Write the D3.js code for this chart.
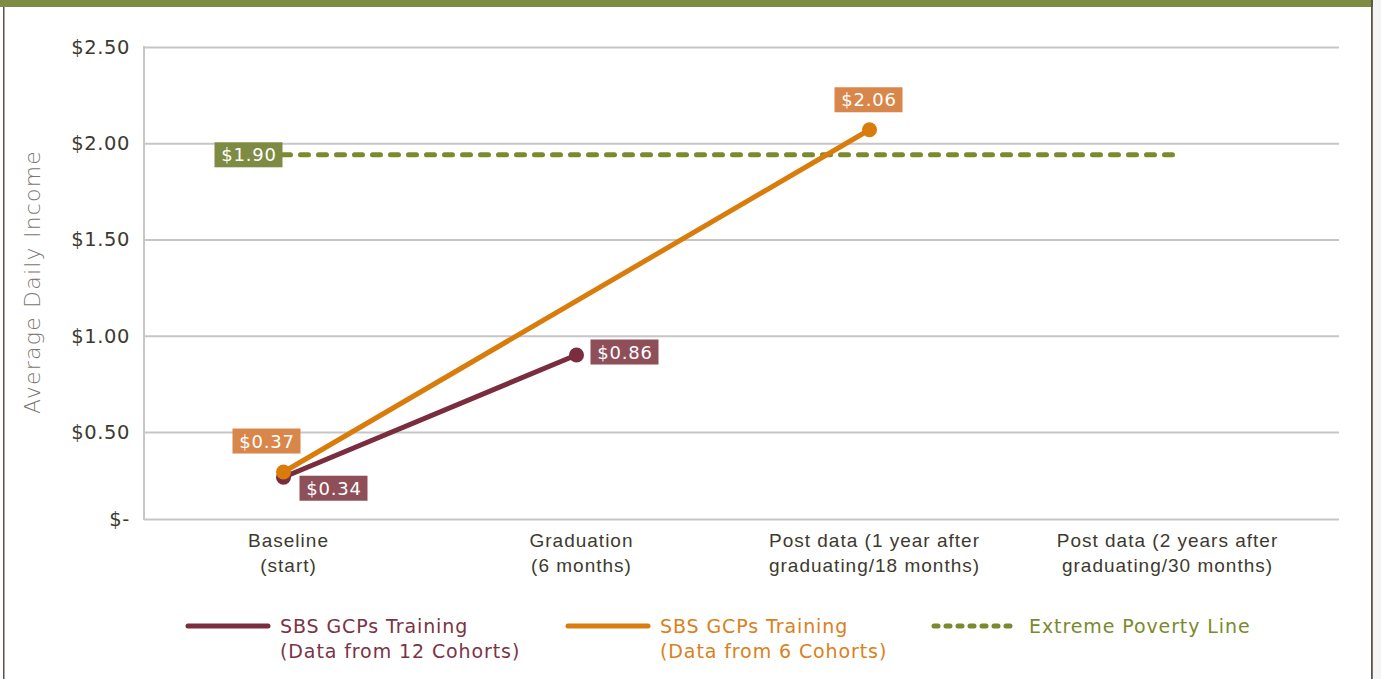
<!DOCTYPE html>
<html>
<head>
    <meta charset="utf-8">
    <title>Average Daily Income</title>
    <script src="https://cdn.jsdelivr.net/npm/d3@7/dist/d3.min.js"></script>
    <style>
        html, body { margin: 0; padding: 0; background: #f4f4f4; }
        svg { display: block; font-family: "DejaVu Sans", sans-serif; }
    </style>
</head>
<body>
<svg id="mainsvg" width="1381" height="679"></svg>
<script>
    // data
    const categories = ['Baseline|(start)', 'Graduation|(6 months)',
        'Post data (1 year after|graduating/18 months)', 'Post data (2 years after|graduating/30 months)'];
    const yTicks = [0, 0.5, 1.0, 1.5, 2.0, 2.5];
    const yTickLabels = ['$-', '$0.50', '$1.00', '$1.50', '$2.00', '$2.50'];

    // null = no measurement for that period
    const cohorts12Values = [0.24, 0.90, null, null];
    const cohorts12Labels = ['$0.34', '$0.86', null, null];
    const cohorts6Values = [0.27, null, 2.07, null];
    const cohorts6Labels = ['$0.37', null, '$2.06', null];
    const povertyValue = 1.94;
    const povertyLabel = '$1.90';

    const seriesNames = ['SBS GCPs Training|(Data from 12 Cohorts)', 'SBS GCPs Training|(Data from 6 Cohorts)', 'Extreme Poverty Line'];

    const purple = '#7b2d40', purpleBox = '#8e4f58';
    const orange = '#d97c0c', orangeBox = '#d9864b';
    const green = '#7a8a2c', greenBox = '#7e8c43';

    const svg = d3.select('#mainsvg');
    const width = +svg.attr('width');
    const height = +svg.attr('height');

    // frame
    svg.append('rect').attr('x', 0).attr('y', 0).attr('width', 1373).attr('height', height).attr('fill', '#ffffff');
    svg.append('rect').attr('x', 0).attr('y', 0).attr('width', 1373).attr('height', 7).attr('fill', '#7e8c43');
    svg.append('rect').attr('x', 3).attr('y', 7).attr('width', 1.5).attr('height', height).attr('fill', '#5a5448');
    svg.append('rect').attr('x', 1371).attr('y', 0).attr('width', 1.8).attr('height', height).attr('fill', '#5a5448');

    const plotLeft = 144, plotRight = 1339;

    const xScale = d3.scaleBand().domain(categories).range([137, 1309]);
    const xc = d => xScale(d) + xScale.bandwidth() / 2;

    // the zero line sits a bit closer than the other gridlines in the original
    const yScale = d3.scaleLinear().domain([0, 0.5, 2.5]).range([519, 432, 47]);

    // gridlines via axis
    const grid = svg.append('g')
        .attr('transform', `translate(${plotLeft},0)`)
        .call(d3.axisLeft(yScale).tickValues(yTicks).tickSize(-(plotRight - plotLeft)).tickFormat(''));
    grid.select('.domain').remove();
    grid.selectAll('.tick line').attr('stroke', '#c6c6c6').attr('stroke-width', 2);

    svg.append('line')
        .attr('x1', plotLeft).attr('x2', plotLeft)
        .attr('y1', yScale(2.5) - 1).attr('y2', yScale(0) + 1)
        .attr('stroke', '#c6c6c6').attr('stroke-width', 2);

    // y tick labels
    const yAxis = svg.append('g')
        .attr('transform', `translate(${plotLeft},0)`)
        .call(d3.axisLeft(yScale).tickValues(yTicks).tickSize(0).tickPadding(14)
            .tickFormat((d, i) => yTickLabels[i]));
    yAxis.select('.domain').remove();
    yAxis.selectAll('text')
        .attr('font-family', '"DejaVu Sans", sans-serif')
        .attr('font-size', '19.5px').attr('letter-spacing', '0.6px')
        .attr('fill', '#3d3a2f');

    // y axis title
    svg.append('text')
        .attr('transform', `translate(40,${282}) rotate(-90)`)
        .attr('text-anchor', 'middle')
        .attr('font-family', '"DejaVu Sans ExtraLight", "DejaVu Sans", sans-serif')
        .attr('font-size', '22px').attr('font-weight', 200).attr('letter-spacing', '1.2px')
        .attr('fill', '#7a7670')
        .text('Average Daily Income');

    // x category labels
    const xAxis = svg.append('g')
        .attr('transform', `translate(0,${yScale(0)})`)
        .call(d3.axisBottom(xScale).tickSize(0).tickFormat(''));
    xAxis.select('.domain').remove();
    xAxis.selectAll('.tick').each(function (d) {
        const t = d3.select(this).append('text')
            .attr('text-anchor', 'middle')
            .attr('font-size', '19px').attr('letter-spacing', '1px')
            .attr('fill', '#3d3a2f');
        d.split('|').forEach((line, i) => {
            t.append('tspan').attr('x', 5).attr('y', 28 + i * 25).text(line);
        });
    });

    // poverty line
    svg.append('line')
        .attr('x1', xc(categories[0]) - 1).attr('x2', xc(categories[3]) + 20)
        .attr('y1', yScale(povertyValue)).attr('y2', yScale(povertyValue))
        .attr('stroke', green).attr('stroke-width', 5)
        .attr('stroke-linecap', 'round').attr('stroke-dasharray', '8,10');

    const line = d3.line().x(d => d.x).y(d => yScale(d.v));

    function drawSeries(values, color) {
        const pts = values.map((v, i) => ({ x: xc(categories[i]), v: v, i: i }))
            .filter(d => d.v !== null);
        svg.append('path').datum(pts)
            .attr('d', line).attr('fill', 'none')
            .attr('stroke', color).attr('stroke-width', 5).attr('stroke-linecap', 'round');
        svg.selectAll(null).data(pts).join('circle')
            .attr('cx', d => d.x).attr('cy', d => yScale(d.v)).attr('r', 7.5)
            .attr('fill', color);
        return pts;
    }

    const p12 = drawSeries(cohorts12Values, purple);
    const p6 = drawSeries(cohorts6Values, orange);

    function valueLabel(x, y, text, fill) {
        const g = svg.append('g');
        g.append('rect')
            .attr('x', x - 34).attr('y', y - 12.5).attr('width', 68).attr('height', 25)
            .attr('fill', fill);
        g.append('text')
            .attr('x', x + 0.5).attr('y', y).attr('text-anchor', 'middle')
            .attr('dominant-baseline', 'central')
            .attr('font-size', '18px').attr('letter-spacing', '0.8px')
            .attr('fill', '#ffffff').text(text);
    }

    valueLabel(p12[0].x + 50, yScale(p12[0].v) + 11, cohorts12Labels[p12[0].i], purpleBox);
    valueLabel(p12[1].x + 48, yScale(p12[1].v) - 3, cohorts12Labels[p12[1].i], purpleBox);
    valueLabel(p6[0].x - 17, yScale(p6[0].v) - 31, cohorts6Labels[p6[0].i], orangeBox);
    valueLabel(p6[1].x - 1, yScale(p6[1].v) - 30, cohorts6Labels[p6[1].i], orangeBox);
    valueLabel(xc(categories[0]) - 35, yScale(povertyValue) + 0, povertyLabel, greenBox);

    // legend
    const legendItems = [
        { x: 188, color: purple, text: '#7b3346', dash: null },
        { x: 568, color: orange, text: '#d98120', dash: null },
        { x: 934, color: green, text: '#7a8a2c', dash: '4,8' }
    ];
    legendItems.forEach((it, i) => {
        const g = svg.append('g').attr('transform', `translate(${it.x},626)`);
        g.append('line').attr('x1', 0).attr('x2', 80)
            .attr('stroke', it.color).attr('stroke-width', 5)
            .attr('stroke-linecap', 'round')
            .attr('stroke-dasharray', it.dash);
        const t = g.append('text').attr('font-size', '19px').attr('letter-spacing', '0.9px')
            .attr('fill', it.text);
        seriesNames[i].split('|').forEach((s, j) => {
            t.append('tspan').attr('x', i === 2 ? 95 : 92).attr('y', 7 + j * 25).text(s);
        });
    });
</script>
</body>
</html>
